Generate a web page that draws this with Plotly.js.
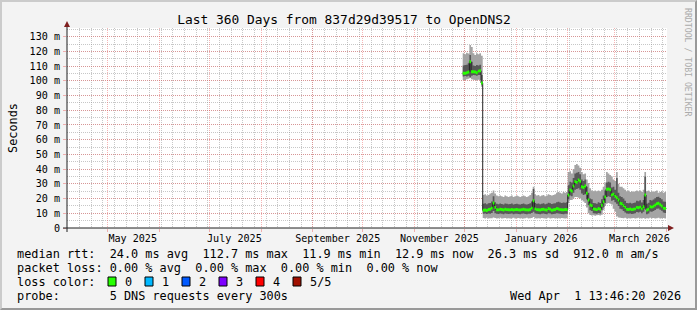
<!DOCTYPE html>
<html>
<head>
<meta charset="utf-8">
<script src="https://cdn.plot.ly/plotly-3.0.1.min.js"></script>
<style>
  html, body { margin: 0; padding: 0; background: #f3f3f3; }
  #wrap { position: relative; width: 697px; height: 310px; }
  #chart { position: absolute; left: 0; top: 0; width: 697px; height: 310px; }
  #frame { position: absolute; left: 0; top: 0; width: 697px; height: 310px; box-sizing: border-box;
           border-top: 2px solid #cbcbcb; border-left: 2px solid #cbcbcb;
           border-bottom: 2px solid #999999; border-right: 2px solid #999999; pointer-events: none; }
</style>
</head>
<body>
<div id="wrap"><div id="chart"></div><div id="frame"></div></div>
<script>
// ---------------- data (milliseconds) ----------------
const firstDay = '2025-11-30';           // one value per day from here
const rangeStart = '2025-04-06 13:46:20';
const rangeEnd = '2026-04-01 13:46:20';

// median rtt
const medianRtt = [
  105.1, 105.1, 105.5, 106.0, 113.0, 106.2, 106.2, 106.0, 105.5, 106.6, 106.8, 98.5,
  12.0, 12.2, 11.9, 12.6, 12.8, 13.5, 17.0, 14.0, 12.4, 12.3, 12.7, 12.6, 12.2, 12.8, 12.5, 12.4, 12.3, 12.6, 12.2, 12.5,
  12.6, 12.3, 12.2, 12.5, 12.7, 12.4, 12.3, 12.2, 12.6, 13.5, 18.5, 13.0, 12.5, 12.4, 12.2, 12.6, 12.8, 12.3, 12.2, 13.2, 12.7, 12.1, 12.4, 12.6, 13.3, 12.9, 12.5, 12.4, 12.3, 12.6, 12.5,
  22.4, 25.8, 25.2, 28.5, 31.5, 31.0, 32.6, 31.8, 28.0, 27.5, 28.5, 23.6, 19.0, 15.6, 15.2, 13.0, 12.7, 12.5, 13.2, 12.8, 15.5, 17.9, 21.0, 26.3, 26.5, 26.0, 22.5, 23.0,
  21.5, 20.5, 19.0, 16.8, 16.5, 15.2, 14.0, 12.8, 12.6, 12.9, 12.5, 12.7, 13.0, 14.0, 13.8, 14.2, 13.0, 14.5, 22.4, 12.2, 12.8, 14.5, 14.2, 14.8, 15.6, 16.5, 16.8, 15.8, 15.0, 13.5, 13.3,
  12.9
];
// slowest ping
const pingMax = [
  118.7, 118.0, 119.0, 118.5, 124.3, 123.0, 118.7, 117.5, 118.7, 118.0, 118.7, 117.0,
  22.5, 23.0, 22.0, 22.5, 23.5, 24.0, 25.5, 23.5, 22.0, 21.5, 22.0, 21.5, 21.0, 22.0, 21.5, 21.0, 21.5, 22.0, 21.0, 21.5,
  22.0, 21.5, 21.0, 21.5, 22.0, 21.5, 21.0, 21.5, 22.5, 24.0, 28.0, 23.0, 22.0, 22.5, 21.5, 22.0, 22.5, 21.5, 22.0, 23.0, 22.5, 22.0, 22.5, 23.0, 24.0, 24.5, 24.0, 23.5, 24.5, 24.0, 24.5,
  38.0, 38.5, 37.0, 40.0, 42.8, 43.5, 42.5, 41.0, 38.0, 36.5, 37.0, 33.0, 30.6, 27.0, 25.5, 25.0, 25.5, 25.0, 25.5, 25.0, 26.0, 28.0, 31.0, 38.0, 37.0, 36.0, 35.0, 33.0,
  32.0, 38.0, 30.0, 28.0, 28.0, 27.0, 26.0, 25.0, 25.5, 24.5, 25.0, 24.5, 25.0, 25.5, 25.0, 25.5, 24.5, 26.0, 38.0, 25.0, 25.5, 24.5, 25.0, 24.5, 25.0, 25.5, 24.0, 24.5, 25.0, 24.0, 24.5,
  24.0
];
// fastest ping
const pingMin = [
  100.6, 100.5, 101.0, 101.5, 102.0, 101.0, 100.8, 100.6, 100.5, 100.7, 100.6, 96.0,
  6.8, 6.5, 6.9, 6.4, 6.7, 6.6, 7.2, 6.8, 6.5, 6.6, 6.9, 6.4, 6.6, 6.8, 6.5, 6.7, 6.4, 6.6, 6.9, 6.5,
  6.6, 6.8, 6.4, 6.7, 6.5, 6.6, 6.9, 6.5, 6.7, 6.8, 7.5, 6.6, 6.4, 6.7, 6.5, 6.8, 6.6, 6.4, 6.7, 6.9, 6.5, 6.6, 6.8, 6.5, 6.7, 6.6, 6.4, 6.8, 6.6, 6.5, 6.7,
  17.0, 19.0, 19.0, 20.0, 21.0, 21.0, 20.5, 20.0, 19.0, 18.0, 17.0, 14.0, 10.0, 8.8, 8.5, 8.7, 8.4, 8.6, 8.8, 8.5, 9.0, 12.0, 15.0, 16.5, 17.0, 16.5, 16.0, 13.0,
  11.0, 8.0, 7.2, 6.9, 6.8, 6.6, 6.9, 6.5, 6.7, 6.4, 6.6, 6.8, 6.5, 6.7, 6.9, 6.6, 6.4, 6.8, 6.3, 6.7, 6.5, 6.9, 6.6, 6.8, 6.4, 6.7, 6.9, 6.5, 6.6, 6.8, 6.5,
  6.6
];
// second fastest ping
const pingLow = [
  103.0, 103.2, 103.0, 103.5, 102.5, 103.5, 104.0, 103.8, 103.5, 104.0, 104.0, 97.5,
  9.6, 9.8, 9.5, 9.9, 9.7, 10.2, 11.5, 10.0, 9.6, 9.5, 9.8, 9.7, 9.4, 9.9, 9.6, 9.5, 9.7, 9.8, 9.4, 9.6,
  9.7, 9.5, 9.4, 9.6, 9.8, 9.5, 9.4, 9.6, 9.7, 10.2, 11.0, 9.9, 9.6, 9.5, 9.4, 9.7, 9.8, 9.5, 9.4, 10.0, 9.8, 9.3, 9.5, 9.7, 10.0, 9.9, 9.6, 9.5, 9.4, 9.7, 9.6,
  19.5, 22.0, 21.5, 24.0, 26.0, 26.5, 27.0, 26.0, 23.5, 22.5, 23.0, 19.5, 15.5, 12.0, 11.5, 10.0, 9.8, 9.6, 10.2, 9.9, 12.0, 14.0, 17.0, 21.0, 21.5, 21.0, 18.5, 19.0,
  17.5, 16.5, 15.0, 13.0, 12.8, 11.5, 10.5, 9.8, 9.6, 9.9, 9.5, 9.7, 10.0, 10.8, 10.6, 11.0, 10.0, 11.0, 13.0, 9.4, 9.8, 11.2, 11.0, 11.5, 12.2, 13.0, 13.2, 12.4, 11.8, 10.5, 10.2,
  9.9
];
// second slowest ping
const pingHigh = [
  110.5, 110.8, 111.0, 112.0, 117.5, 113.0, 110.5, 110.0, 110.8, 110.5, 111.0, 104.0,
  16.5, 16.8, 16.2, 16.9, 17.0, 18.0, 21.5, 17.5, 16.4, 16.2, 16.6, 16.3, 16.0, 16.7, 16.4, 16.1, 16.3, 16.6, 16.0, 16.3,
  16.5, 16.2, 16.0, 16.3, 16.6, 16.2, 16.0, 16.3, 16.8, 18.0, 26.5, 17.0, 16.5, 16.6, 16.2, 16.5, 16.8, 16.2, 16.4, 17.2, 16.8, 16.3, 16.6, 16.9, 17.5, 17.8, 17.4, 17.0, 17.3, 17.2, 17.5,
  29.0, 31.5, 31.0, 34.0, 37.0, 37.5, 38.0, 36.5, 33.0, 32.0, 33.0, 28.0, 24.0, 20.0, 19.5, 17.0, 16.8, 16.5, 17.5, 17.0, 19.5, 22.0, 25.5, 31.0, 31.5, 31.0, 27.5, 28.0,
  26.0, 34.0, 24.0, 21.5, 21.0, 20.0, 18.5, 17.0, 16.8, 17.2, 16.7, 17.0, 17.4, 18.5, 18.2, 18.8, 17.3, 19.0, 35.0, 16.5, 17.2, 19.0, 18.7, 19.4, 20.2, 21.0, 21.3, 20.4, 19.6, 18.0, 17.8,
  17.4
];

// axis labels / grid positions
const monthStarts = ['2025-05-01','2025-06-01','2025-07-01','2025-08-01','2025-09-01','2025-10-01',
                     '2025-11-01','2025-12-01','2026-01-01','2026-02-01','2026-03-01','2026-04-01'];
const labelDates = ['2025-05-16','2025-07-16','2025-09-16','2025-11-16','2026-01-16','2026-03-16'];
const labelTexts = ['May 2025','July 2025','September 2025','November 2025','January 2026','March 2026'];
const yTickVals = [0,10,20,30,40,50,60,70,80,90,100,110,120,130];
const yTickText = ['0','10 m','20 m','30 m','40 m','50 m','60 m','70 m','80 m','90 m','100 m','110 m','120 m','130 m'];

const lossLabels = ['0','1','2','3','4','5/5'];
const lossColors = ['#26ff00','#00b8ff','#0059ff','#7e00ff','#ff0000','#a01000'];

const titleText = 'Last 360 Days from 837d29d39517 to OpenDNS2';
const legendLines = [
  'median rtt:  24.0 ms avg  112.7 ms max  11.9 ms min  12.9 ms now  26.3 ms sd  912.0 m am/s',
  'packet loss: 0.00 % avg  0.00 % max  0.00 % min  0.00 % now',
  'loss color:',
  'probe:       5 DNS requests every 300s'
];
const stampText = 'Wed Apr  1 13:46:20 2026';

// ---------------- build ----------------
const days = medianRtt.map((_, i) => {
  const d = new Date(Date.parse(firstDay + 'T00:00:00Z') + i * 86400000);
  return d.toISOString().slice(0, 10);
});

const MONO = 'DejaVu Sans Mono, monospace';
const GRID = 'rgba(143,143,143,0.5)';
const MGRID = 'rgba(235,90,90,0.45)';
const SMOKE_OUT = '#a4a4a4', SMOKE_IN = '#585858';
const GREEN_HALF = 1.0; // half thickness of loss-colour band (ms)

// pixel helpers for placing decorations (plot area 67..667 x, 28..228 y)
const L = 67, PW = 600, B = 228, PH = 200;
const px = x => (x - L) / PW;
const py = y => (B - y) / PH;

const nb = s => s.replace(/ /g, '\u00a0');

const traces = [
  {x: days, y: pingMin, mode: 'lines', line: {width: 0, shape: 'hv'}, hoverinfo: 'skip', showlegend: false},
  {x: days, y: pingMax, mode: 'lines', line: {width: 0, shape: 'hv'}, fill: 'tonexty', fillcolor: SMOKE_OUT, hoverinfo: 'skip', showlegend: false},
  {x: days, y: pingLow, mode: 'lines', line: {width: 0, shape: 'hv'}, hoverinfo: 'skip', showlegend: false},
  {x: days, y: pingHigh, mode: 'lines', line: {width: 0, shape: 'hv'}, fill: 'tonexty', fillcolor: SMOKE_IN, hoverinfo: 'skip', showlegend: false},
  {x: days, y: medianRtt, mode: 'lines', line: {width: 1, color: '#202020', shape: 'hv'}, showlegend: false},
  {x: days, y: medianRtt.map(v => v - GREEN_HALF), mode: 'lines', line: {width: 0, shape: 'hv'}, hoverinfo: 'skip', showlegend: false},
  {x: days, y: medianRtt.map(v => v + GREEN_HALF), mode: 'lines', line: {width: 0, shape: 'hv'}, fill: 'tonexty', fillcolor: lossColors[0], hoverinfo: 'skip', showlegend: false},
  {x: [], y: [], xaxis: 'x2', yaxis: 'y', mode: 'lines', showlegend: false, hoverinfo: 'skip'}
];

const shapes = [
  // axes
  {type: 'line', xref: 'paper', yref: 'paper', x0: px(63), x1: px(669), y0: 0, y1: 0, line: {color: '#1f1f1f', width: 1}, layer: 'above'},
  {type: 'line', xref: 'paper', yref: 'paper', x0: 0, x1: 0, y0: py(232), y1: py(26), line: {color: '#1f1f1f', width: 1}, layer: 'above'},
  {type: 'path', xref: 'paper', yref: 'paper', path: `M${px(668)},${py(225)} L${px(674)},${py(228)} L${px(668)},${py(231)} Z`, fillcolor: '#7f1f1f', line: {width: 0}, layer: 'above'},
  {type: 'path', xref: 'paper', yref: 'paper', path: `M${px(64)},${py(27)} L${px(67)},${py(21)} L${px(70)},${py(27)} Z`, fillcolor: '#7f1f1f', line: {width: 0}, layer: 'above'}
];

const annotations = [];
const lineY = [254, 268, 281.5, 296];
legendLines.forEach((t, i) => {
  annotations.push({xref: 'paper', yref: 'paper', x: px(16), y: py(lineY[i]), xanchor: 'left', yanchor: 'middle',
    text: nb(t), showarrow: false, borderpad: 0, font: {family: MONO, size: 11.85, color: '#000'}});
});
annotations.push({xref: 'paper', yref: 'paper', x: px(682), y: py(lineY[3]), xanchor: 'right', yanchor: 'middle',
  text: nb(stampText), showarrow: false, borderpad: 0, font: {family: MONO, size: 11.85, color: '#000'}});

const boxX = [108, 145, 182, 219, 256, 293];
lossLabels.forEach((lab, i) => {
  shapes.push({type: 'rect', xref: 'paper', yref: 'paper', x0: px(boxX[i]), x1: px(boxX[i] + 8),
    y0: py(lineY[2] + 4.5), y1: py(lineY[2] - 4.5), fillcolor: lossColors[i], line: {color: '#000', width: 1}, layer: 'above'});
  annotations.push({xref: 'paper', yref: 'paper', x: px(boxX[i] + 16), y: py(lineY[2]), xanchor: 'left', yanchor: 'middle',
    text: lab, showarrow: false, borderpad: 0, font: {family: MONO, size: 11.85, color: '#000'}});
});

annotations.push({xref: 'paper', yref: 'paper', x: px(688), y: py(62), xanchor: 'center', yanchor: 'middle',
  text: 'RRDTOOL / TOBI OETIKER', textangle: 90, showarrow: false, borderpad: 0,
  font: {family: MONO, size: 8.2, color: '#ababab'}});

const layout = {
  width: 697, height: 310,
  margin: {l: 67, r: 30, t: 28, b: 82, pad: 0},
  paper_bgcolor: '#f3f3f3', plot_bgcolor: '#ffffff',
  showlegend: false,
  title: {text: titleText, font: {family: MONO, size: 12.9, color: '#000'},
          xref: 'container', yref: 'container', x: 344 / 697, xanchor: 'center', y: 1 - 19.5 / 310, yanchor: 'middle'},
  xaxis: {
    type: 'date', range: [rangeStart, rangeEnd], fixedrange: true,
    tickmode: 'array', tickvals: monthStarts, showticklabels: false,
    ticks: 'outside', ticklen: 3, tickcolor: MGRID,
    showgrid: true, gridcolor: MGRID, griddash: '1px,1px', gridwidth: 1,
    minor: {tick0: '2025-04-07', dtick: 7 * 86400000, showgrid: true, gridcolor: GRID, griddash: '1px,1px', gridwidth: 1, ticks: ''},
    showline: false, zeroline: false
  },
  xaxis2: {
    type: 'date', overlaying: 'x', anchor: 'y', side: 'bottom', range: [rangeStart, rangeEnd], fixedrange: true,
    tickmode: 'array', tickvals: labelDates, ticktext: labelTexts,
    ticks: '', showgrid: false, showline: false, zeroline: false,
    tickfont: {family: MONO, size: 10.1, color: '#000'}, ticklabelstandoff: 3
  },
  yaxis: {
    range: [0, 135.9], fixedrange: true,
    tickmode: 'array', tickvals: yTickVals, ticktext: yTickText,
    ticks: 'outside', ticklen: 3, tickcolor: MGRID,
    tickfont: {family: MONO, size: 10.1, color: '#000'}, ticklabelstandoff: 1,
    showgrid: true, gridcolor: MGRID, griddash: '1px,1px', gridwidth: 1,
    minor: {tick0: 0, dtick: 5, showgrid: true, gridcolor: GRID, griddash: '1px,1px', gridwidth: 1, ticks: ''},
    showline: false, zeroline: false,
    title: {text: 'Seconds', font: {family: MONO, size: 11.85, color: '#000'}, standoff: 9}
  },
  shapes: shapes,
  annotations: annotations
};

Plotly.newPlot('chart', traces, layout, {displayModeBar: false, staticPlot: true});
</script>
</body>
</html>
